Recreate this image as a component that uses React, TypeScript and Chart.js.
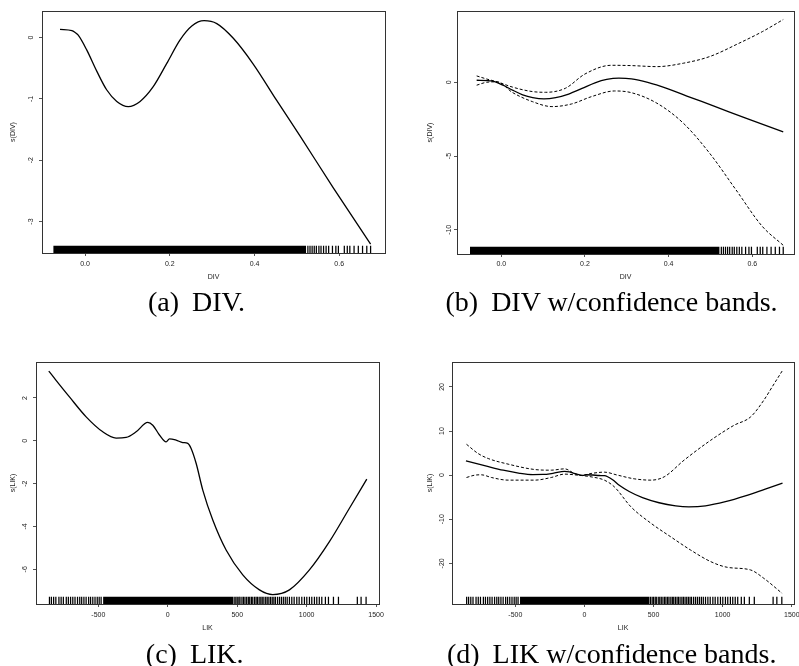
import React, { useEffect, useRef } from "react";
import { Chart, registerables } from "chart.js";
Chart.register(...registerables);

// ---------------- data ----------------
const DIV_TICKS_X = [0, 0.2, 0.4, 0.6];
const DIV_TICKS_Y_A = [-3, -2, -1, 0];
const DIV_TICKS_Y_B = [-10, -5, 0];
const LIK_TICKS_X = [-500, 0, 500, 1000, 1500];
const LIK_TICKS_Y_C = [-6, -4, -2, 0, 2];
const LIK_TICKS_Y_D = [-20, -10, 0, 10, 20];

const DIV_X = [-0.059, -0.031, -0.024, -0.016, 0.004, 0.028, 0.051, 0.075, 0.102, 0.13, 0.161, 0.193, 0.224, 0.252, 0.281, 0.311, 0.35, 0.397, 0.452, 0.507, 0.586, 0.674];
const DIV_FIT = [0.136, 0.115, 0.087, 0.04, -0.2, -0.55, -0.85, -1.04, -1.125, -1.04, -0.8, -0.42, -0.04, 0.19, 0.277, 0.23, -0.01, -0.43, -1.02, -1.6, -2.45, -3.37];

const DIV_UP_X = [-0.059, -0.035, -0.01, 0.027, 0.074, 0.106, 0.153, 0.2, 0.263, 0.31, 0.372, 0.435, 0.498, 0.568, 0.624, 0.674];
const DIV_UP = [0.43, 0.22, 0.03, -0.33, -0.63, -0.68, -0.41, 0.56, 1.15, 1.13, 1.06, 1.29, 1.74, 2.64, 3.43, 4.25];
const DIV_LO_X = [-0.059, -0.035, -0.01, 0.027, 0.074, 0.121, 0.168, 0.216, 0.271, 0.31, 0.372, 0.435, 0.498, 0.561, 0.624, 0.674];
const DIV_LO = [-0.2, 0.0, 0.03, -0.7, -1.31, -1.65, -1.47, -0.97, -0.59, -0.7, -1.42, -2.77, -4.81, -7.29, -9.77, -11.05];

const DIV_RUG_DENSE = [-0.075, 0.522];
const DIV_RUG_SPARSE = [0.526, 0.531, 0.536, 0.541, 0.546, 0.552, 0.557, 0.563, 0.569, 0.575, 0.584, 0.592, 0.598, 0.612, 0.619, 0.625, 0.635, 0.645, 0.655, 0.665, 0.674];

const LIK_X = [-857, -708, -588, -468, -372, -300, -228, -144, -108, -60, -12, 12, 60, 108, 144, 168, 204, 252, 324, 420, 540, 660, 756, 876, 1020, 1164, 1308, 1433];
const LIK_FIT = [3.25, 2.05, 1.12, 0.42, 0.13, 0.16, 0.42, 0.86, 0.73, 0.27, -0.05, 0.09, 0.03, -0.08, -0.12, -0.36, -1.05, -2.3, -3.7, -5.1, -6.26, -6.96, -7.18, -6.96, -6.03, -4.71, -3.15, -1.79];

const LIK_UP_X = [-853, -769, -696, -552, -360, -240, -144, -72, -24, 48, 144, 240, 360, 481, 577, 721, 913, 1082, 1202, 1298, 1358, 1430];
const LIK_UP = [7.0, 4.9, 3.77, 2.5, 1.28, 1.13, 1.43, 0.38, -0.08, 0.38, 0.68, 0.0, -0.83, -1.13, -0.38, 3.4, 7.9, 11.3, 13.2, 17.0, 20.0, 23.6];
const LIK_LO_X = [-853, -793, -745, -673, -552, -360, -240, -144, -48, 48, 144, 216, 337, 481, 625, 769, 913, 1034, 1202, 1298, 1430];
const LIK_LO = [-0.53, 0.0, 0.08, -0.53, -1.13, -1.13, -0.53, 0.23, 0.0, -0.38, -1.13, -2.64, -7.2, -10.9, -14.0, -17.0, -19.6, -20.9, -21.5, -23.4, -26.8];

const LIK_RUG_DENSE = [-466, 472];
const LIK_RUG_SPARSE = [-852, -838, -822, -806, -784, -768, -752, -731, -716, -700, -684, -668, -650, -634, -620, -604, -588, -570, -556, -540, -524, -508, -494, -480,
  478, 490, 500, 512, 520, 534, 545, 556, 568, 580, 590, 602, 612, 625, 636, 646, 658, 670, 680, 692, 705, 716, 728, 740, 752, 764, 775, 790, 804, 818, 832, 846, 860, 876, 893, 910, 929, 946, 965, 984, 1001, 1020, 1037, 1056, 1073, 1091, 1109, 1135, 1157, 1193, 1229, 1365, 1392, 1428];

// ---------------- layout ----------------
const SANS = "'Liberation Sans', Arial, Helvetica, sans-serif";
const SERIF = "'Liberation Serif', 'Times New Roman', serif";

const zip = (xs: number[], ys: number[]) => xs.map((x, i) => ({ x, y: ys[i] }));
const fmt1 = (v: number) => v.toFixed(1);
const fmt0 = (v: number) => String(v);

type PanelCfg = {
  left: number; top: number; width: number; height: number;
  area: { l: number; r: number; t: number; b: number };
  xRange: number[]; yRange: number[];
  xTicks: number[]; yTicks: number[];
  xFmt: (v: number) => string;
  xTitle: string; yTitle: string;
  fitX: number[]; fitY: number[];
  upX?: number[]; upY?: number[]; loX?: number[]; loY?: number[];
  rugDense: number[]; rugSparse: number[];
  xTickPad: number; xTitlePb: number; yTickPad: number; yTitlePt: number;
};

const PANELS: PanelCfg[] = [
  {
    left: 0, top: 0, width: 400, height: 290,
    area: { l: 42, r: 385, t: 11, b: 253 },
    xRange: [-0.1015, 0.708], yRange: [-3.5135, 0.435],
    xTicks: DIV_TICKS_X, yTicks: DIV_TICKS_Y_A, xFmt: fmt1,
    xTitle: "DIV", yTitle: "s(DIV)",
    fitX: DIV_X, fitY: DIV_FIT,
    rugDense: DIV_RUG_DENSE, rugSparse: DIV_RUG_SPARSE,
    xTickPad: 4.1, xTitlePb: 9.1, yTickPad: 5.2, yTitlePt: 9.1,
  },
  {
    left: 400, top: 0, width: 399, height: 290,
    area: { l: 457, r: 798, t: 11, b: 254 },
    xRange: [-0.106, 0.7], yRange: [-11.64, 4.83],
    xTicks: DIV_TICKS_X, yTicks: DIV_TICKS_Y_B, xFmt: fmt1,
    xTitle: "DIV", yTitle: "s(DIV)",
    fitX: DIV_X, fitY: DIV_FIT,
    upX: DIV_UP_X, upY: DIV_UP, loX: DIV_LO_X, loY: DIV_LO,
    rugDense: DIV_RUG_DENSE, rugSparse: DIV_RUG_SPARSE,
    xTickPad: 3.1, xTitlePb: 9.1, yTickPad: -0.4, yTitlePt: 26.3,
  },
  {
    left: 0, top: 330, width: 400, height: 310,
    area: { l: 36, r: 379, t: 362, b: 604 },
    xRange: [-949, 1521], yRange: [-7.62, 3.68],
    xTicks: LIK_TICKS_X, yTicks: LIK_TICKS_Y_C, xFmt: fmt0,
    xTitle: "LIK", yTitle: "s(LIK)",
    fitX: LIK_X, fitY: LIK_FIT,
    rugDense: LIK_RUG_DENSE, rugSparse: LIK_RUG_SPARSE,
    xTickPad: 3.5, xTitlePb: 7.5, yTickPad: 5.2, yTitlePt: 8.8,
  },
  {
    left: 400, top: 330, width: 399, height: 310,
    area: { l: 452, r: 796, t: 362, b: 604 },
    xRange: [-958, 1517], yRange: [-29.22, 25.66],
    xTicks: LIK_TICKS_X, yTicks: LIK_TICKS_Y_D, xFmt: fmt0,
    xTitle: "LIK", yTitle: "s(LIK)",
    fitX: LIK_X, fitY: LIK_FIT,
    upX: LIK_UP_X, upY: LIK_UP, loX: LIK_LO_X, loY: LIK_LO,
    rugDense: LIK_RUG_DENSE, rugSparse: LIK_RUG_SPARSE,
    xTickPad: 3.5, xTitlePb: 7.5, yTickPad: 2.2, yTitlePt: 25.8,
  },
];

const CAPTIONS = [
  { label: "(a)", text: "DIV.", cx: 196.5, baseline: 311.5 },
  { label: "(b)", text: "DIV w/confidence bands.", cx: 611.5, baseline: 311.5 },
  { label: "(c)", text: "LIK.", cx: 194.7, baseline: 663 },
  { label: "(d)", text: "LIK w/confidence bands.", cx: 611.7, baseline: 663 },
];

const boxPlugin = {
  id: "rbox",
  afterDraw(chart: any) {
    const { ctx, chartArea } = chart;
    const l = Math.floor(chartArea.left) + 0.5;
    const t = Math.floor(chartArea.top) + 0.5;
    const r = Math.floor(chartArea.right) + 0.5;
    const b = Math.floor(chartArea.bottom) + 0.5;
    ctx.save();
    ctx.strokeStyle = "#333";
    ctx.lineWidth = 1;
    ctx.strokeRect(l, t, r - l, b - t);
    ctx.restore();
  },
};

function makeChart(canvas: HTMLCanvasElement, p: PanelCfg) {
  const [ymin, ymax] = p.yRange;
  const rugFrac = 0.03;
  const rugData = (ymax - ymin) * rugFrac;
  const rugPx = (p.area.b - p.area.t) * rugFrac;
  const datasets: any[] = [];
  datasets.push({
    data: [{ x: p.rugDense[0], y: ymin + rugData }, { x: p.rugDense[1], y: ymin + rugData }],
    fill: "start", backgroundColor: "#000", borderWidth: 0, pointRadius: 0, tension: 0,
  });
  datasets.push({
    data: p.rugSparse.map((x) => ({ x, y: ymin + rugData / 2 })),
    showLine: false, pointStyle: "line", pointRotation: 90, pointRadius: rugPx / 2,
    pointHoverRadius: rugPx / 2, pointBorderWidth: 1.25, pointBorderColor: "#000",
    pointBackgroundColor: "#000", fill: false,
  });
  const curve = (xs: number[], ys: number[], dashed: boolean) => ({
    data: zip(xs, ys), borderColor: "#000", borderWidth: dashed ? 1 : 1.3,
    borderDash: dashed ? [3, 2] : [], pointRadius: 0, fill: false,
    cubicInterpolationMode: "monotone",
  });
  if (p.upX && p.upY) datasets.push(curve(p.upX, p.upY, true));
  if (p.loX && p.loY) datasets.push(curve(p.loX, p.loY, true));
  datasets.push(curve(p.fitX, p.fitY, false));

  const yW = p.area.l - p.left;
  const xH = p.top + p.height - p.area.b;
  const tickFont = { family: SANS, size: 7 };

  return new Chart(canvas, {
    type: "line",
    data: { datasets },
    plugins: [boxPlugin],
    options: {
      animation: false,
      responsive: false,
      devicePixelRatio: 1,
      events: [],
      layout: { padding: { left: 0, top: p.area.t - p.top, right: p.left + p.width - p.area.r, bottom: 0 } },
      plugins: { legend: { display: false }, tooltip: { enabled: false } },
      scales: {
        x: {
          type: "linear", bounds: "data", min: p.xRange[0], max: p.xRange[1],
          afterBuildTicks: (s: any) => { s.ticks = p.xTicks.map((v) => ({ value: v })); },
          afterFit: (s: any) => { s.height = xH; s.paddingLeft = 0; s.paddingRight = 0; },
          grid: { display: true, drawOnChartArea: false, drawTicks: true, tickLength: 3, color: "#555" },
          border: { display: false },
          ticks: { autoSkip: false, minRotation: 0, maxRotation: 0, padding: p.xTickPad, font: tickFont, color: "#222", callback: (v: any) => p.xFmt(Number(v)) },
          title: { display: true, text: p.xTitle, font: tickFont, color: "#222", padding: { top: 0, bottom: p.xTitlePb } },
        },
        y: {
          type: "linear", bounds: "data", min: ymin, max: ymax,
          afterBuildTicks: (s: any) => { s.ticks = p.yTicks.map((v) => ({ value: v })); },
          afterFit: (s: any) => { s.width = yW; s.paddingTop = 0; s.paddingBottom = 0; },
          grid: { display: true, drawOnChartArea: false, drawTicks: true, tickLength: 3, color: "#555" },
          border: { display: false },
          ticks: { autoSkip: false, minRotation: 90, maxRotation: 90, crossAlign: "center", padding: p.yTickPad, font: tickFont, color: "#222", callback: (v: any) => fmt0(Number(v)) },
          title: { display: true, text: p.yTitle, font: tickFont, color: "#222", padding: { top: p.yTitlePt, bottom: 0 } },
        },
      },
    } as any,
  });
}

function Panel({ p }: { p: PanelCfg }) {
  const ref = useRef<HTMLCanvasElement | null>(null);
  useEffect(() => {
    if (!ref.current) return;
    const c = makeChart(ref.current, p);
    return () => c.destroy();
  }, []);
  return (
    <canvas
      ref={ref}
      width={p.width}
      height={p.height}
      style={{ position: "absolute", left: p.left, top: p.top, width: p.width, height: p.height }}
    />
  );
}

const CAP_SIZE = 28;

export default function App() {
  return (
    <div style={{ position: "absolute", left: 0, top: 0, width: 799, height: 666, overflow: "hidden", background: "#fff" }}>
      {PANELS.map((p, i) => <Panel key={i} p={p} />)}
      {CAPTIONS.map((c, i) => (
        <div
          key={"c" + i}
          style={{
            position: "absolute", left: c.cx - 250, width: 500, top: c.baseline - 23.45,
            textAlign: "center", fontFamily: SERIF, fontSize: CAP_SIZE, lineHeight: CAP_SIZE + "px",
            color: "#000", whiteSpace: "nowrap",
          }}
        >
          <span>{c.label}</span>
          <span style={{ marginLeft: 13 }}>{c.text}</span>
        </div>
      ))}
    </div>
  );
}
